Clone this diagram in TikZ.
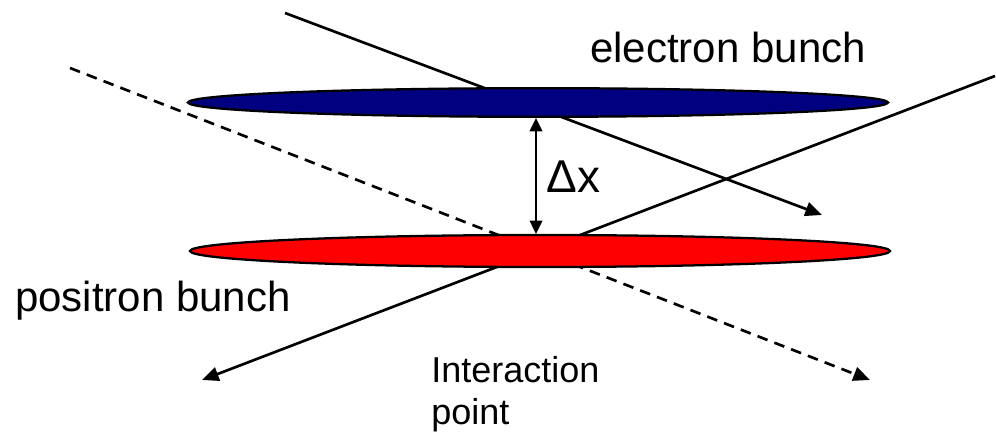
\documentclass[tikz,border=0pt]{standalone}
\usepackage{fontspec}
\setmainfont{Liberation Sans}
\usetikzlibrary{arrows.meta,shapes.geometric}
\definecolor{bunchblue}{RGB}{0,0,128}
\definecolor{bunchred}{RGB}{255,0,0}
\begin{document}
\begin{tikzpicture}[x=0.75pt,y=-0.75pt,
  track/.style={line width=2pt,-{Triangle[length=12.5pt,width=10.5pt]}},
  ghost/.style={track,dash pattern=on 8pt off 5.5pt},
  bunch/.style={ellipse,draw=black,line width=1.7pt,inner sep=0pt,
    minimum width=525pt},
  label/.style={anchor=base west,inner sep=0pt,font=\fontsize{31.5}{36}\selectfont}]
  % canvas
  \fill[white] (0,0) rectangle (996,434);
  \useasboundingbox (0,0) rectangle (996,434);

  % track end points
  \coordinate (e0) at (285,13);
  \coordinate (e1) at (822,215);
  \coordinate (p0) at (995,76);
  \coordinate (p1) at (202,380);
  \coordinate (d0) at (70,68);
  \coordinate (d1) at (870,380);

  % particle tracks (drawn below the bunches)
  \draw[track] (e0) -- (e1);
  \draw[track] (p0) -- (p1);
  \draw[ghost] (d0) -- (d1);

  % the two bunches
  \node[bunch,fill=bunchblue,minimum height=21.5pt] (blue) at (538,102.5) {};
  \node[bunch,fill=bunchred,minimum height=24pt] (red) at (540,251) {};

  % separation
  \draw[line width=1.5pt,{Triangle[length=10pt,width=9.5pt]}-{Triangle[length=10pt,width=9.5pt]}]
    ([xshift=-1.5pt]blue.south) -- ([xshift=-3pt]red.north);

  % labels
  \node[label] (eb) at (590,63) {electron bunch};
  \node[label] (pb) at (15,312) {positron bunch};
  \node[label,font=\fontsize{34.5}{40}\selectfont] (dx) at (546,193) {Δx};
  \node[anchor=base west,inner sep=0pt,align=left,
        font=\fontsize{27}{31.5}\selectfont] (ip) at (431,425) {Interaction\\point};
\end{tikzpicture}
\end{document}
